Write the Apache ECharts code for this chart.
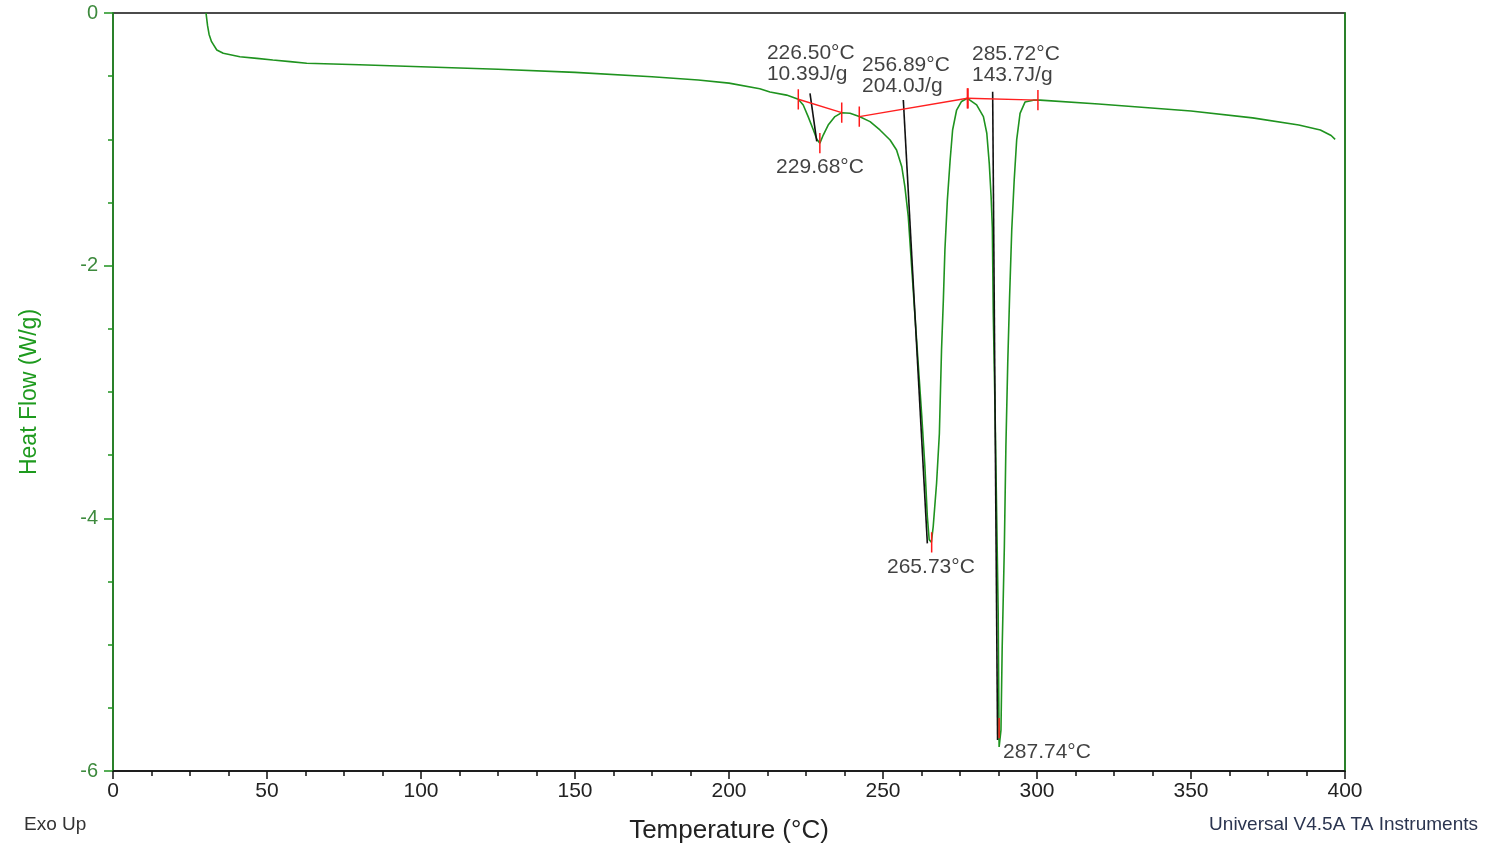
<!DOCTYPE html>
<html lang="en">
<head>
    <meta charset="UTF-8">
    <title>DSC Heat Flow</title>
    <script src="https://cdn.jsdelivr.net/npm/echarts@6/dist/echarts.min.js"></script>
    <style>
        html, body { margin: 0; padding: 0; background: #fff; }
        #chart1 { width: 1486px; height: 843px; }
    </style>
</head>
<body>
<div id="chart1"></div>
<script>
    // curve (temperature in °C, heat flow in W/g)
    var temp = [30.2, 30.5, 30.7, 31.2, 32.0, 33.7, 35.8, 41.2, 46.7, 51.9, 57.5, 62.9, 80, 100, 125, 150, 175, 190, 200, 210,
        213.3, 218.7, 222.5, 224.1, 225.7, 227.4, 228.5, 229.5, 230.6, 232.2, 234.4, 236.6, 239.3, 242.3, 245.8, 249.0,
        252.3, 254.4, 256.1, 257.1, 258.2, 259.3, 260.4, 261.5, 262.6, 263.6, 264.4, 265.0, 265.7, 266.3, 267.4, 268.3,
        269.0, 269.6, 270.1, 270.9, 271.8, 272.6, 273.9, 275.5, 277.4, 280.4, 282.6, 283.7, 284.5, 285.1, 285.5, 285.8,
        286.4, 286.9, 287.4, 287.7, 288.3, 288.7, 289.4, 289.9, 290.5, 291.1, 291.8, 292.6, 293.4, 294.5, 296.1, 298.8,
        301.0, 320, 350, 370, 385, 392, 395.5, 396.8];
    var heatFlow = [0, -0.06, -0.1, -0.17, -0.227, -0.293, -0.319, -0.346, -0.359, -0.372, -0.385, -0.398, -0.41, -0.425, -0.445, -0.47, -0.505, -0.53, -0.555, -0.6,
        -0.625, -0.65, -0.683, -0.728, -0.82, -0.926, -1.0, -1.03, -0.966, -0.887, -0.82, -0.789, -0.794, -0.82, -0.86, -0.926,
        -1.005, -1.084, -1.217, -1.375, -1.61, -2.008, -2.404, -2.8, -3.196, -3.59, -3.987, -4.17, -4.19, -4.066, -3.72, -3.33,
        -2.67, -2.27, -1.876, -1.48, -1.164, -0.926, -0.768, -0.70, -0.675, -0.728, -0.82, -0.952, -1.19, -1.454, -1.7, -2.377,
        -3.169, -3.96, -4.75, -5.81, -5.676, -5.016, -4.225, -3.433, -2.773, -2.246, -1.718, -1.322, -1.005, -0.794, -0.705, -0.69,
        -0.69, -0.72, -0.776, -0.83, -0.887, -0.926, -0.97, -1.0];

    // onset tangent lines (black): start and end points
    var onsetX1 = [226.3, 256.6, 285.6];
    var onsetY1 = [-0.636, -0.689, -0.623];
    var onsetX2 = [228.5, 264.4, 287.2];
    var onsetY2 = [-1.016, -4.198, -5.755];

    // integration baselines (red)
    var baseX1 = [222.5, 242.3, 277.4];
    var baseY1 = [-0.683, -0.82, -0.675];
    var baseX2 = [236.6, 277.4, 300.3];
    var baseY2 = [-0.789, -0.675, -0.69];

    // small red limit / peak markers
    var markX = [222.5, 236.6, 242.3, 277.4, 277.6, 300.3, 229.5, 265.8, 287.7];
    var markY = [-0.683, -0.789, -0.82, -0.675, -0.675, -0.69, -1.03, -4.19, -5.66];

    // annotation texts, anchored at their left edge
    var annoX = [212.3, 243.2, 278.9, 215.3, 251.3, 289.0];
    var annoY = [-0.404, -0.499, -0.412, -1.219, -4.385, -5.85];
    var annoText = ['226.50°C\n10.39J/g', '256.89°C\n204.0J/g', '285.72°C\n143.7J/g', '229.68°C', '265.73°C', '287.74°C'];

    var xTicks = [0, 50, 100, 150, 200, 250, 300, 350, 400];
    var yTicks = [0, -2, -4, -6];

    var green = '#1f931f';

    var curve = temp.map(function (t, i) { return [t, heatFlow[i]]; });

    function segmentSeries(x1, y1, x2, y2, color, width) {
        return x1.map(function (x, i) {
            return {
                type: 'line', silent: true, symbol: 'none', animation: false,
                lineStyle: {color: color, width: width},
                data: [[x, y1[i]], [x2[i], y2[i]]],
                z: 4
            };
        });
    }

    var markH = 0.08;
    var markSeries = segmentSeries(markX, markY.map(function (y) { return y + markH; }),
        markX, markY.map(function (y) { return y - markH; }), '#ff1a1a', 1.5);

    var series = [{
        type: 'line', silent: true, symbol: 'none', animation: false,
        lineStyle: {color: green, width: 1.6},
        data: curve,
        z: 3
    }];
    series = series.concat(segmentSeries(onsetX1, onsetY1, onsetX2, onsetY2, '#111', 1.6));
    series = series.concat(segmentSeries(baseX1, baseY1, baseX2, baseY2, '#ff2020', 1.4));
    series = series.concat(markSeries);
    series.push({
        type: 'scatter', silent: true, symbolSize: 0, animation: false,
        data: annoX.map(function (x, i) { return [x, annoY[i], annoText[i]]; }),
        label: {
            show: true, position: 'right', distance: 0, align: 'left',
            formatter: function (p) { return p.data[2]; },
            fontSize: 21, lineHeight: 21, color: '#111', fontFamily: 'Liberation Sans'
        },
        z: 6
    });

    var myChart1 = echarts.init(document.getElementById('chart1'));
    myChart1.setOption({
        backgroundColor: '#fff',
        animation: false,
        textStyle: {fontFamily: 'Liberation Sans'},
        grid: {
            left: 113, right: 141, top: 13, bottom: 72, containLabel: false, outerBoundsMode: 'none',
            show: true, borderColor: '#111', borderWidth: 1.5, backgroundColor: 'transparent'
        },
        xAxis: {
            type: 'value', min: xTicks[0], max: xTicks[xTicks.length - 1], interval: 50,
            position: 'bottom',
            name: 'Temperature (°C)', nameLocation: 'middle', nameGap: 47,
            nameTextStyle: {fontSize: 26, color: '#222'},
            axisLine: {onZero: false, lineStyle: {color: '#111', width: 1.5}},
            axisTick: {length: 8, lineStyle: {color: '#111', width: 1.5}},
            minorTick: {show: true, splitNumber: 4, length: 5, lineStyle: {color: '#111', width: 1.5}},
            axisLabel: {fontSize: 21, color: '#222', margin: 10},
            splitLine: {show: false}
        },
        yAxis: [{
            type: 'value', min: yTicks[yTicks.length - 1], max: yTicks[0], interval: 2,
            position: 'left',
            name: 'Heat Flow (W/g)', nameLocation: 'middle', nameGap: 72, nameRotate: 90,
            nameTextStyle: {fontSize: 23, color: '#1e9a1e'},
            axisLine: {show: true, onZero: false, lineStyle: {color: green, width: 1.5}},
            axisTick: {show: true, length: 9, lineStyle: {color: green, width: 1.5}},
            minorTick: {show: true, splitNumber: 4, length: 5, lineStyle: {color: green, width: 1.5}},
            axisLabel: {fontSize: 20, color: '#3d8a3d', margin: 15},
            splitLine: {show: false}
        }, {
            type: 'value', min: -6, max: 0, position: 'right',
            axisLine: {show: true, onZero: false, lineStyle: {color: green, width: 1.5}},
            axisTick: {show: false}, axisLabel: {show: false}, splitLine: {show: false}
        }],
        graphic: [{
            type: 'text', left: 24, top: 815,
            style: {text: 'Exo Up', fontSize: 19, fill: '#333', fontFamily: 'Liberation Sans'}
        }, {
            type: 'text', right: 8, top: 815,
            style: {text: 'Universal V4.5A TA Instruments', fontSize: 19, fill: '#2b3550', fontFamily: 'Liberation Sans'}
        }],
        series: series
    });
</script>
</body>
</html>
